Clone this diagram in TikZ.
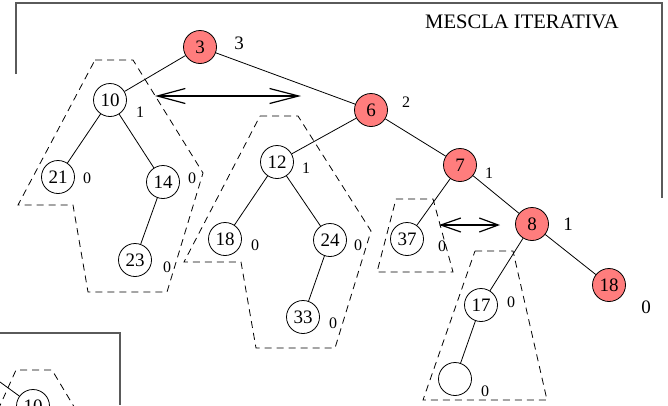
\documentclass[tikz,border=0pt]{standalone}
\usepackage{fontspec}
\setmainfont{Liberation Serif}
\usetikzlibrary{arrows.meta}
\definecolor{nodered}{RGB}{255,125,125}
\definecolor{framegray}{RGB}{90,90,90}
\begin{document}
\begin{tikzpicture}[x=1pt,y=-1pt,
  tn/.style={circle,draw,line width=0.8pt,minimum size=33pt,inner sep=0pt,font=\fontsize{19}{19}\selectfont},
  rn/.style={tn,fill=nodered},
  bal/.style={inner sep=0pt,font=\fontsize{16}{16}\selectfont},
  balbig/.style={inner sep=0pt,font=\fontsize{19}{19}\selectfont},
  edge/.style={line width=0.8pt},
  hull/.style={dash pattern=on 7pt off 5pt,line width=0.8pt},
  frameline/.style={draw=framegray,line width=1.1pt},
  swap/.style={line width=1.2pt},
]
\useasboundingbox (0,0) rectangle (668,405);
% frames
\draw[frameline] (16,74) -- (16,3) -- (662,3) -- (662,198);
\draw[frameline] (0,333) -- (120,333) -- (120,405);
\node[inner sep=0pt,font=\fontsize{20.6}{20.6}\selectfont] (title) at (522,22) {MESCLA ITERATIVA};

% dashed hulls
\draw[hull] (95,60) -- (133,60) -- (203,173) -- (167,292) -- (88,292) -- (73,205) -- (18,205) -- cycle;
\draw[hull] (260,116) -- (298,116) -- (371,231) -- (335,348) -- (256,348) -- (241,262) -- (184,262) -- cycle;
\draw[hull] (396,199) -- (433,199) -- (453,272) -- (377,272) -- cycle;
\draw[hull] (475,251) -- (513,251) -- (547,400) -- (423,400) -- cycle;
\draw[hull] (-2,410) -- (16,370) -- (52,370) -- (76,410);

% nodes
\node[rn] (n3) at (200,47) {3};
\node[tn] (n10) at (110,100) {10};
\node[tn] (n21) at (58,177) {21};
\node[tn] (n14) at (163,182) {14};
\node[tn] (n23) at (135,260) {23};
\node[rn] (n6) at (371,110) {6};
\node[tn] (n12) at (277,162) {12};
\node[tn] (n18) at (225,239) {18};
\node[tn] (n24) at (330,240) {24};
\node[tn] (n33) at (303,317) {33};
\node[rn] (n7) at (460,165) {7};
\node[tn] (n37) at (407,239) {37};
\node[rn] (n8) at (532,224) {8};
\node[rn] (n18r) at (609,285) {18};
\node[tn] (n17) at (481,305) {17};
\node[tn] (nE) at (455,379) {};
\node[tn] (n10b) at (33,406) {10};
\coordinate (offl) at (0,382);

% edges
\draw[edge] (n3) -- (n10);
\draw[edge] (n3) -- (n6);
\draw[edge] (n10) -- (n21);
\draw[edge] (n10) -- (n14);
\draw[edge] (n14) -- (n23);
\draw[edge] (n6) -- (n12);
\draw[edge] (n6) -- (n7);
\draw[edge] (n12) -- (n18);
\draw[edge] (n12) -- (n24);
\draw[edge] (n24) -- (n33);
\draw[edge] (n7) -- (n37);
\draw[edge] (n7) -- (n8);
\draw[edge] (n8) -- (n17);
\draw[edge] (n8) -- (n18r);
\draw[edge] (n17) -- (nE);
\draw[edge] (offl) -- (n10b);

% balance labels
\node[balbig] (b3) at (239,43) {3};
\node[bal] (b10) at (140,112) {1};
\node[bal] (b21) at (87,178) {0};
\node[bal] (b14) at (192,178) {0};
\node[bal] (b23) at (167,267) {0};
\node[bal] (b6) at (406,102) {2};
\node[bal] (b12) at (306,168) {1};
\node[bal] (b18) at (255,245) {0};
\node[bal] (b24) at (358,245) {0};
\node[bal] (b33) at (333,323) {0};
\node[bal] (b7) at (489,173) {1};
\node[bal] (b37) at (442,246) {0};
\node[balbig] (b8) at (568,224) {1};
\node[balbig] (b18r) at (646,307) {0};
\node[bal] (b17) at (511,302) {0};
\node[bal] (bE) at (485,391) {0};

% swap arrows
\coordinate (s1a) at (155,96);
\coordinate (s1b) at (301,96);
\draw[swap,{Straight Barb[length=28pt,width=15pt]}-{Straight Barb[length=29pt,width=15pt]}] (s1a) -- (s1b);
\coordinate (s2a) at (439,225);
\coordinate (s2b) at (500,225);
\draw[swap,{Straight Barb[length=20pt,width=14pt]}-{Straight Barb[length=19pt,width=14pt]}] (s2a) -- (s2b);
\end{tikzpicture}
\end{document}
